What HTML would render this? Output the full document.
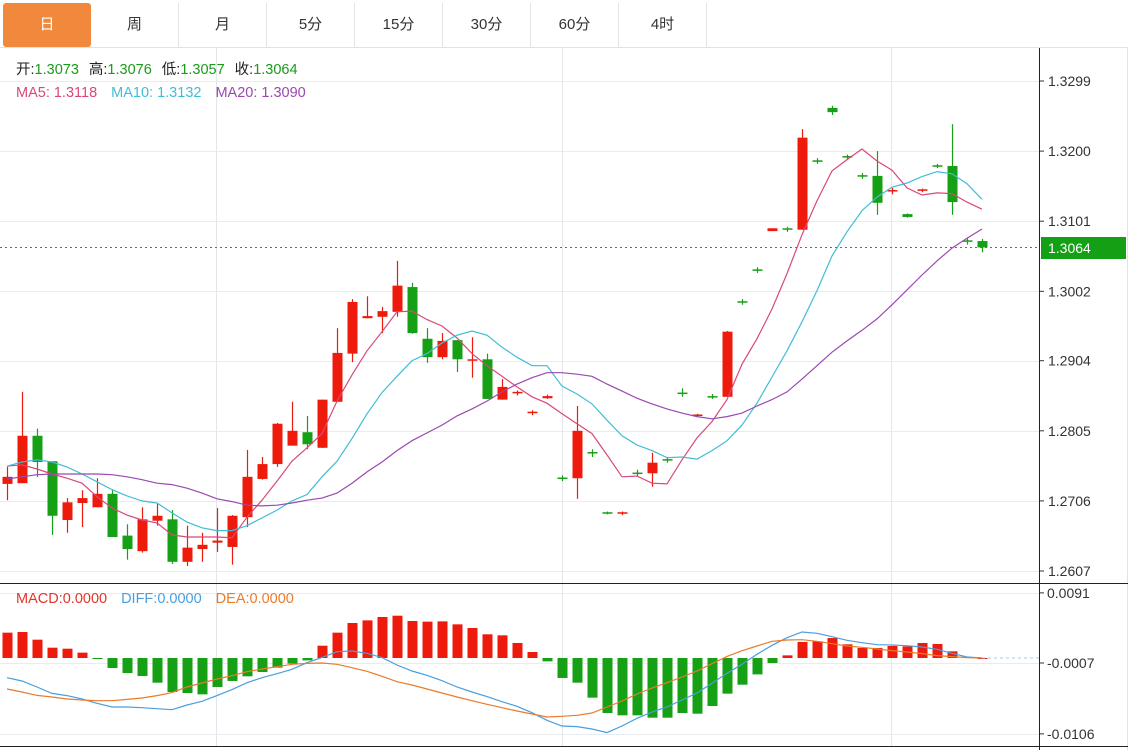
<!DOCTYPE html>
<html><head><meta charset="utf-8">
<style>
body{margin:0;background:#fff;width:1132px;height:750px;overflow:hidden;font-family:"Liberation Sans","Noto Sans CJK SC",sans-serif;}
#tabs{position:absolute;left:0;top:0;width:1128px;height:47px;}
.tab{position:absolute;top:3px;height:44px;width:88px;line-height:44px;text-align:center;font-size:15px;color:#333;border-right:1px solid #e3e3e3;box-sizing:border-box;}
.tab.on{background:#f0893c;color:#fff;border-radius:3px;border-right:none;}
svg{position:absolute;left:0;top:0;}
</style></head><body>
<div id="tabs">
<div class="tab on" style="left:3px">日</div>
<div class="tab" style="left:91px">周</div>
<div class="tab" style="left:179px">月</div>
<div class="tab" style="left:267px">5分</div>
<div class="tab" style="left:355px">15分</div>
<div class="tab" style="left:443px">30分</div>
<div class="tab" style="left:531px">60分</div>
<div class="tab" style="left:619px">4时</div>
</div>
<svg id="chart" width="1132" height="750"></svg>
<script>
const opens=[1.2730,1.2731,1.2798,1.2762,1.2679,1.2703,1.2697,1.2716,1.2657,1.2635,1.2678,1.2680,1.2620,1.2638,1.2647,1.2641,1.2683,1.2737,1.2758,1.2784,1.2803,1.2781,1.2846,1.2914,1.2964,1.2966,1.2973,1.3008,1.2935,1.2909,1.2933,1.2905,1.2906,1.2849,1.2858,1.2830,1.2851,1.2739,1.2738,1.2775,1.2690,1.2688,1.2746,1.2745,1.2765,1.2859,1.2826,1.2854,1.2853,1.2988,1.3033,1.3087,1.3091,1.3089,1.3187,1.3261,1.3193,1.3166,1.3165,1.3143,1.3111,1.3144,1.3180,1.3179,1.3074,1.3073];
const highs=[1.2754,1.2860,1.2808,1.2762,1.2710,1.2721,1.2738,1.2721,1.2673,1.2697,1.2702,1.2693,1.2671,1.2661,1.2696,1.2686,1.2778,1.2768,1.2816,1.2846,1.2826,1.2849,1.2950,1.2991,1.2995,1.2980,1.3045,1.3014,1.2950,1.2943,1.2933,1.2937,1.2914,1.2878,1.2862,1.2834,1.2856,1.2742,1.2840,1.2779,1.2691,1.2691,1.2750,1.2774,1.2768,1.2865,1.2829,1.2857,1.2946,1.2991,1.3036,1.3091,1.3093,1.3231,1.3190,1.3264,1.3195,1.3169,1.3200,1.3148,1.3112,1.3147,1.3182,1.3238,1.3077,1.3076];
const lows=[1.2707,1.2731,1.2740,1.2658,1.2661,1.2669,1.2697,1.2655,1.2623,1.2633,1.2671,1.2617,1.2614,1.2620,1.2634,1.2616,1.2669,1.2736,1.2754,1.2784,1.2779,1.2781,1.2846,1.2902,1.2964,1.2943,1.2966,1.2942,1.2901,1.2906,1.2888,1.2880,1.2850,1.2849,1.2855,1.2827,1.2850,1.2734,1.2709,1.2768,1.2687,1.2686,1.2741,1.2726,1.2760,1.2853,1.2825,1.2850,1.2853,1.2983,1.3028,1.3087,1.3086,1.3089,1.3182,1.3251,1.3189,1.3161,1.3110,1.3139,1.3106,1.3142,1.3176,1.3110,1.3068,1.3057];
const closes=[1.2740,1.2798,1.2761,1.2685,1.2704,1.2710,1.2716,1.2655,1.2638,1.2680,1.2685,1.2620,1.2640,1.2644,1.2650,1.2685,1.2740,1.2758,1.2815,1.2805,1.2786,1.2849,1.2915,1.2987,1.2967,1.2974,1.3010,1.2943,1.2909,1.2932,1.2906,1.2906,1.2850,1.2867,1.2860,1.2832,1.2854,1.2737,1.2805,1.2773,1.2688,1.2690,1.2744,1.2760,1.2763,1.2857,1.2828,1.2852,1.2945,1.2986,1.3031,1.3091,1.3089,1.3219,1.3185,1.3255,1.3191,1.3164,1.3127,1.3145,1.3107,1.3146,1.3178,1.3128,1.3072,1.3064];
const ma5=[1.2755,1.2757,1.2751,1.2744,1.2738,1.2731,1.2712,1.2696,1.2686,1.2679,1.2675,1.2658,1.2655,1.2655,1.2655,1.2654,1.2683,1.2707,1.2734,1.2762,1.2781,1.2801,1.2847,1.2884,1.2918,1.2945,1.2973,1.2974,1.2962,1.2953,1.2936,1.2914,1.2897,1.2882,1.2867,1.2853,1.2844,1.2829,1.2815,1.2801,1.2771,1.2740,1.2741,1.2731,1.2730,1.2764,1.2795,1.2818,1.2849,1.2899,1.2935,1.2977,1.3027,1.3082,1.3130,1.3172,1.3188,1.3203,1.3186,1.3173,1.3148,1.3138,1.3141,1.3140,1.3128,1.3118];
const ma10=[1.2755,1.2761,1.2764,1.2761,1.2754,1.2744,1.2733,1.2722,1.2713,1.2706,1.2703,1.2689,1.2676,1.2668,1.2664,1.2664,1.2671,1.2682,1.2693,1.2706,1.2715,1.2740,1.2762,1.2794,1.2829,1.2859,1.2882,1.2904,1.2914,1.2929,1.2940,1.2946,1.2940,1.2923,1.2909,1.2897,1.2897,1.2868,1.2857,1.2843,1.2820,1.2798,1.2785,1.2777,1.2767,1.2768,1.2765,1.2777,1.2791,1.2813,1.2844,1.2881,1.2918,1.2959,1.3003,1.3052,1.3086,1.3116,1.3135,1.3149,1.3155,1.3164,1.3171,1.3168,1.3154,1.3132];
const ma20=[1.2737,1.2740,1.2743,1.2744,1.2744,1.2744,1.2744,1.2743,1.2740,1.2736,1.2731,1.2729,1.2724,1.2717,1.2709,1.2705,1.2700,1.2699,1.2700,1.2703,1.2707,1.2710,1.2717,1.2731,1.2747,1.2761,1.2777,1.2791,1.2802,1.2813,1.2826,1.2836,1.2847,1.2860,1.2871,1.2880,1.2887,1.2887,1.2885,1.2882,1.2871,1.2861,1.2851,1.2843,1.2836,1.2830,1.2825,1.2822,1.2825,1.2830,1.2840,1.2849,1.2860,1.2878,1.2897,1.2916,1.2932,1.2947,1.2963,1.2983,1.3004,1.3025,1.3045,1.3063,1.3077,1.3090];
const macdHist=[.00354,.00363,.00256,.00144,.00130,.00075,-.0001,-.00140,-.00210,-.00252,-.00345,-.00475,-.00489,-.00508,-.00405,-.00321,-.00256,-.00196,-.00135,-.00079,-.00033,.00172,.00354,.00489,.00526,.00573,.00591,.00517,.00508,.00512,.00470,.00419,.00331,.00317,.00210,.00084,-.00047,-.00279,-.00345,-.00554,-.00769,-.00801,-.00801,-.00834,-.00834,-.00769,-.00778,-.00671,-.00498,-.00373,-.00229,-.00070,.00037,.00224,.00233,.00279,.00191,.00140,.00140,.00168,.00163,.00210,.00196,.00093,.00014,0];
const diff=[-.00275,-.00321,-.00405,-.00494,-.00526,-.00573,-.00633,-.00685,-.00685,-.00694,-.00708,-.00722,-.00657,-.00605,-.00526,-.00442,-.00345,-.00275,-.00219,-.00158,-.00065,.00009,.00088,.00098,.00065,.00005,-.00098,-.00182,-.00242,-.00317,-.00405,-.00475,-.0054,-.0061,-.00675,-.00764,-.00871,-.0095,-.00959,-.00992,-.01043,-.0095,-.00843,-.00755,-.00685,-.00587,-.00489,-.00354,-.00214,-.00088,.00051,.00177,.00284,.00363,.00345,.00298,.00247,.00214,.00186,.00182,.00172,.00154,.00121,.00065,.00014,0];
const dea=[-.00433,-.00475,-.00522,-.00545,-.00573,-.00587,-.00596,-.00596,-.00578,-.00559,-.00526,-.00484,-.00405,-.00349,-.00293,-.00247,-.00191,-.00154,-.00121,-.00088,-.00075,-.0007,-.00088,-.00135,-.00186,-.00256,-.00331,-.00377,-.00433,-.00489,-.00545,-.00596,-.00647,-.00694,-.00741,-.00782,-.00824,-.00815,-.00801,-.00768,-.00685,-.00601,-.00503,-.00419,-.00345,-.00265,-.00182,-.00079,.00023,.00102,.00168,.00233,.00252,.00256,.00233,.002,.00168,.00149,.00126,.00102,.00084,.00061,.00033,.00019,.00005,0];
const priceTicks=["1.3299","1.3200","1.3101","1.3002","1.2904","1.2805","1.2706","1.2607"];
const macdTicks=["0.0091","-0.0007","-0.0106"];
const lastPrice=1.3064;

const NS="http://www.w3.org/2000/svg";
const svg=document.getElementById('chart');
const RED="#ee1b0c",GREEN="#16a016";
function xI(i){return 7+15*i;}
function yP(v){return 81+(1.3299-v)*7081;}
function yM(v){return 658-v*7157;}
function mk(tag,at,parent){const e=document.createElementNS(NS,tag);for(const k in at)e.setAttribute(k,at[k]);(parent||svg).appendChild(e);return e;}

// grid
const grid=mk('g',{});


priceTicks.forEach(t=>{const y=Math.round(yP(+t))+.5;mk('line',{x1:0,x2:1039,y1:y,y2:y,stroke:'#e8ebef'},grid);});
macdTicks.forEach(t=>{const y=Math.round(yM(+t))+.5;mk('line',{x1:0,x2:1039,y1:y,y2:y,stroke:'#e8ebef'},grid);});
[216,562,891].forEach(x=>mk('line',{x1:x+.5,x2:x+.5,y1:48,y2:746,stroke:'#e3e7ec'},grid));
mk('line',{x1:0,x2:1128,y1:47.5,y2:47.5,stroke:'#e3e3e3'},grid);
mk('line',{x1:1127.5,x2:1127.5,y1:47,y2:750,stroke:'#e3e3e3'},grid);

// candles
const cg=mk('g',{});


opens.forEach((o,i)=>{
  const c=closes[i],col=c>=o?RED:GREEN,x=xI(i);
  const g=mk('g',{},cg);
  
  
  mk('line',{x1:x+.5,x2:x+.5,y1:yP(highs[i]),y2:yP(lows[i]),stroke:col,'stroke-width':1.2},g);
  const t=yP(Math.max(o,c)),b=yP(Math.min(o,c));
  mk('rect',{x:x-4.5,y:t,width:10,height:Math.max(1.5,b-t),fill:col},g);
});
// MAs
function line(arr,fy,col,name,w){
  const p=mk('polyline',{points:arr.map((v,i)=>xI(i)+','+fy(v).toFixed(1)).join(' '),fill:'none',stroke:col,'stroke-width':w||1.2});
  
  
}
line(ma5,yP,'#d9487a','ma5-line');
line(ma10,yP,'#3fbdd6','ma10-line');
line(ma20,yP,'#9b48b0','ma20-line');

// last price line
const ly=Math.round(yP(lastPrice))+.5;
const lp=mk('line',{x1:0,x2:1039,y1:ly,y2:ly,stroke:'#2a9a2a','stroke-dasharray':'2,3'});



// MACD bars
const mg=mk('g',{});


macdHist.forEach((v,i)=>{
  const y0=yM(0),y1=yM(v);
  const r=mk('rect',{x:xI(i)-4.5,y:Math.min(y0,y1),width:10,height:Math.max(1,Math.abs(y1-y0)),fill:v>=0?RED:GREEN},mg);
  
  
});
const zl=mk('line',{x1:xI(65),x2:1039,y1:yM(0),y2:yM(0),stroke:'#a9c9e6','stroke-dasharray':'3,3'});


line(diff,yM,'#4a9ede','diff-line');
line(dea,yM,'#ea7b2b','dea-line');

// panel borders / axis
mk('line',{x1:0,x2:1128,y1:583.5,y2:583.5,stroke:'#222'});
mk('line',{x1:0,x2:1128,y1:746.5,y2:746.5,stroke:'#222'});
mk('line',{x1:1039.5,x2:1039.5,y1:48,y2:750,stroke:'#222'});

const ax=mk('g',{'font-size':14,fill:'#333','font-family':'Liberation Sans, sans-serif'});


priceTicks.forEach(t=>{const y=yP(+t);mk('line',{x1:1040,x2:1044,y1:y,y2:y,stroke:'#333'},ax);const e=mk('text',{x:1048,y:y+5},ax);e.textContent=t;});
const ax2=mk('g',{'font-size':14,fill:'#333','font-family':'Liberation Sans, sans-serif'});


macdTicks.forEach(t=>{const y=yM(+t);mk('line',{x1:1040,x2:1044,y1:y,y2:y,stroke:'#333'},ax2);const e=mk('text',{x:1047,y:y+5},ax2);e.textContent=t;});

// last price label
const lb=mk('g',{});


mk('rect',{x:1041,y:ly-10.5,width:85,height:22,fill:'#14a014'},lb);
const lt=mk('text',{x:1048,y:ly+5.5,'font-size':14,fill:'#fff','font-family':'Liberation Sans, sans-serif'},lb);
lt.textContent=lastPrice.toFixed(4);

// legends
function legend(y,parts,name){
  const t=mk('text',{x:16,y:y,'font-size':14.5,'font-family':'Liberation Sans, Noto Sans CJK SC, sans-serif'});
  
  
  parts.forEach(p=>{const s=mk('tspan',{fill:p[1]},t);if(p[2])s.setAttribute('dx',p[2]);s.textContent=p[0];});
}
legend(74,[['开:','#222'],['1.3073','#1a9a1a'],['高:','#222','10'],['1.3076','#1a9a1a'],['低:','#222','10'],['1.3057','#1a9a1a'],['收:','#222','10'],['1.3064','#1a9a1a']],'ohlc-legend');
legend(97,[['MA5: 1.3118','#d9487a'],['MA10: 1.3132','#3fbdd6','14'],['MA20: 1.3090','#9b48b0','14']],'ma-legend');
legend(603,[['MACD:0.0000','#e0352b'],['DIFF:0.0000','#4a9ede','14'],['DEA:0.0000','#ea7b2b','14']],'macd-legend');
</script>
</body></html>
